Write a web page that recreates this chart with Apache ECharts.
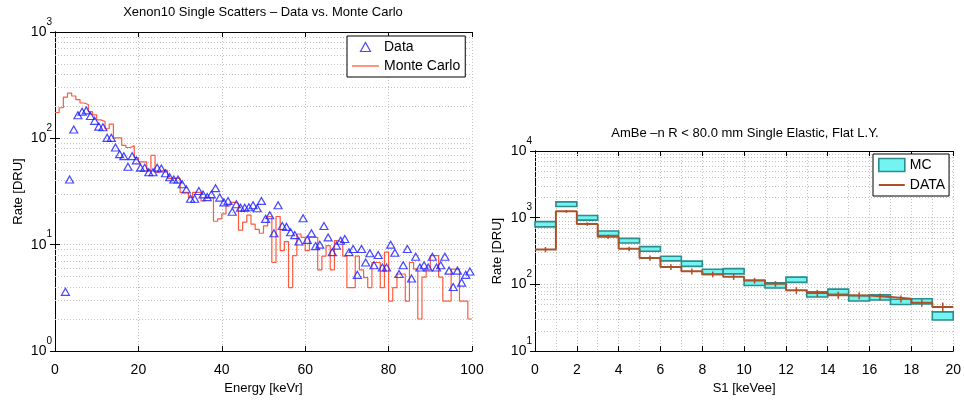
<!DOCTYPE html>
<html><head><meta charset="utf-8">
<script src="https://cdn.jsdelivr.net/npm/echarts@6/dist/echarts.min.js"></script>
<style>html,body{margin:0;padding:0;background:#fff}#c{width:964px;height:400px}</style>
</head><body><div id="c"></div>
<script>
// ---------- Left panel: Xenon10 single scatters ----------
const leftTitle = 'Xenon10 Single Scatters \u2013 Data vs. Monte Carlo';
const leftXTicks = [0, 20, 40, 60, 80, 100];
const leftYTicks = [1, 10, 100, 1000];
const dataEnergy = [2.5,3.5,4.5,5.5,6.5,7.5,8.5,9.5,10.5,11.5,12.5,13.5,14.5,15.5,16.5,17.5,18.5,19.5,20.5,21.5,
  22.5,23.5,24.5,25.5,26.5,27.5,28.5,29.5,30.5,31.5,32.5,33.5,34.5,35.5,36.5,37.5,38.5,39.5,40.5,41.5,
  42.5,43.5,44.5,45.5,46.5,47.5,48.5,49.5,50.5,51.5,52.5,53.5,54.5,55.5,56.5,57.5,58.5,59.5,60.5,61.5,
  62.5,63.5,64.5,65.5,66.5,67.5,68.5,69.5,70.5,71.5,72.5,73.5,74.5,75.5,76.5,77.5,78.5,79.5,80.5,81.5,
  82.5,83.5,84.5,85.5,86.5,87.5,88.5,89.5,90.5,91.5,92.5,93.5,94.5,95.5,96.5,97.5,98.5,99.5];
const dataRate = [3.6,41,121,165,178,183,162,146,129,127,101,101,82,71,68,54,68,62,53,53,
  48,48,53,52,47,43,41,41,37,33,27,27,32,29.7,28,29.7,34,27.7,25,25.8,
  20.4,24,22.3,22.3,22.5,23.5,22,25.8,17.5,18.9,12.8,23.5,15,14.7,13.1,12.3,10.7,17.7,11.1,12.8,
  9.7,10,15,11.7,8.5,9.8,10.9,11.3,8.5,9.1,5.2,9.1,6.8,8.3,6.4,8.0,6.1,6.1,10,8.4,
  5.3,6.4,9.1,4.8,7.7,6.1,6.4,6.1,7.7,6.1,6.4,7.7,5.7,4.0,5.7,4.4,5.2,5.6];
const mcBinEdges = [0,1,2,3,4,5,6,7,8,9,10,11,12,13,14,15,16,17,18,19,20,21,22,23,24,25,26,27,28,29,
  30,31,32,33,34,35,36,37,38,39,40,41,42,43,44,45,46,47,48,49,50,51,52,53,54,55,56,57,58,59,
  60,61,62,63,64,65,66,67,68,69,70,71,72,73,74,75,76,77,78,79,80,81,82,83,84,85,86,87,88,89,
  90,91,92,93,94,95,96,97,98,99,100];
const mcRate = [175,194,244,266,250,231,215,208,178,166,149,144,123,136,101,101,86,82,85,66,
  60,60,50,69,48,50,50,42,42,42,31,31,27.7,31,31,25.8,27.7,27.7,16.6,17.5,
  19.5,23.2,25,24.5,13.7,16.3,19,15.6,13.9,12.8,15,18.4,6.8,18.4,8.8,10.7,3.95,7.9,12.6,11.7,
  8.8,11.7,11.7,5.8,7.8,9.8,5.8,10.9,10.5,7.8,3.95,3.95,7.8,5.8,4.9,3.95,6.8,6.8,3.95,8.5,
  2.95,3.95,5.3,5.3,2.95,6.8,5.9,2.0,4.95,5.8,7.9,7.9,4.95,2.95,2.95,5.9,5.9,2.95,2.95,2.0];

// ---------- Right panel: AmBe ----------
const rightTitle = 'AmBe \u2013n R < 80.0 mm Single Elastic, Flat L.Y.';
const s1Edges = [0,1,2,3,4,5,6,7,8,9,10,11,12,13,14,15,16,17,18,19,20];
const mcRate2 = [800,1600,1000,585,454,341,245,205,155,158,106,97,118,71,78,62,64,55,56,34];
const mcRelErr2 = [0.09,0.08,0.08,0.08,0.08,0.08,0.08,0.09,0.09,0.09,0.09,0.09,0.09,0.09,0.09,0.09,0.09,0.09,0.09,0.14];
const dataRate2 = [334,1245,802,518,341,248,183,157,142,130,114,102,82,74,69,68,65,61,53,46];
const dataRelErr2 = [0.09,0.05,0.06,0.07,0.08,0.09,0.1,0.1,0.1,0.1,0.1,0.1,0.12,0.12,0.12,0.12,0.12,0.12,0.13,0.16];
const minorGridLeft = [2,3,4,5,6,7,8,9,20,30,40,50,60,70,80,90,200,300,400,500,600,700,800,900];
const minorGridRight = [20,30,40,50,60,70,80,90,200,300,400,500,600,700,800,900,2000,3000,4000,5000,6000,7000,8000,9000];

const FONT = '"Liberation Sans", Arial, Helvetica, sans-serif';
const gridLine = {color:'#c2c2c2', type:[1,2], width:1};
const powLabel = v => '{b|10}{s|' + Math.round(Math.log10(v)) + '}';
const richPow = {
  b:{fontSize:14, fontFamily:FONT, color:'#000', lineHeight:22, verticalAlign:'bottom'},
  s:{fontSize:10, fontFamily:FONT, color:'#000', lineHeight:10, verticalAlign:'top'}
};
const axisLine = {show:true, lineStyle:{color:'#000', width:1}};
const tick = {show:true, inside:true, length:5, lineStyle:{color:'#000'}};
const nameStyle = {fontSize:13, fontFamily:FONT, color:'#000'};

function minorMarkLine(vals){
  return {silent:true, z:1, symbol:['none','none'], animation:false, label:{show:false},
    lineStyle:gridLine, emphasis:{disabled:true}, data: vals.map(v => ({yAxis:v}))};
}

const mcLine = mcRate.map((v,i) => [mcBinEdges[i], v]);
mcLine.push([mcBinEdges[mcBinEdges.length-1], mcRate[mcRate.length-1]]);
const dataPts = dataEnergy.map((e,i) => [e, dataRate[i]]);

const dataLine2 = dataRate2.map((v,i) => [s1Edges[i], v]);
dataLine2.push([s1Edges[s1Edges.length-1], dataRate2[dataRate2.length-1]]);
const mcBoxes = mcRate2.map((v,i) => [s1Edges[i], s1Edges[i+1], v*(1-mcRelErr2[i]), v*(1+mcRelErr2[i])]);
const errBars = dataRate2.map((v,i) => [(s1Edges[i]+s1Edges[i+1])/2, v*(1-dataRelErr2[i]), v*(1+dataRelErr2[i])]);

const chart = echarts.init(document.getElementById('c'), null, {renderer:'canvas'});
chart.setOption({
  animation:false,
  backgroundColor:'#fff',
  textStyle:{fontFamily:FONT},
  title:[
    {text:leftTitle, left:263, top:6, textAlign:'center', padding:0, textStyle:{fontSize:13, fontWeight:'normal', color:'#000', fontFamily:FONT}},
    {text:rightTitle, left:745, top:127, textAlign:'center', padding:0, textStyle:{fontSize:13, fontWeight:'normal', color:'#000', fontFamily:FONT}}
  ],
  grid:[
    {left:55, top:32, width:417, height:327, containLabel:false},
    {left:535, top:151, width:419, height:209, containLabel:false}
  ],
  legend:[
    {left:347, top:36, orient:'vertical', backgroundColor:'#fff', borderColor:'#000', borderWidth:1, borderRadius:0,
     padding:[3,5,3,5], itemGap:3, itemWidth:27, itemHeight:9,
     textStyle:{fontSize:14, fontFamily:FONT, color:'#000', lineHeight:16},
     data:[{name:'Data', icon:'path://M5,0L10,9L0,9Z', itemStyle:{color:'#fff', borderColor:'#1a1aff', borderWidth:1.2}},
           {name:'Monte Carlo', icon:'path://M0,0H27V1.3H0Z', itemStyle:{color:'#ff5a3c', borderWidth:0}}]},
    {left:873, top:154, orient:'vertical', backgroundColor:'#fff', borderColor:'#000', borderWidth:1, borderRadius:0,
     padding:[3,4,3,5], itemGap:4, itemWidth:26, itemHeight:13, symbolKeepAspect:true,
     textStyle:{fontSize:14, fontFamily:FONT, color:'#000', lineHeight:16},
     data:[{name:'MC', icon:'rect', itemStyle:{color:'#72f4f2', borderColor:'#2d8c8c', borderWidth:1.6}},
           {name:'DATA', icon:'path://M0,0H26V2H0Z', itemStyle:{color:'#a8532a', borderWidth:0}}]}
  ],
  xAxis:[
    {gridIndex:0, type:'value', min:0, max:100, interval:20, axisLine, axisTick:tick,
     axisLabel:{fontSize:14, fontFamily:FONT, color:'#000', margin:12},
     splitLine:{show:true, lineStyle:gridLine},
     name:'Energy [keVr]', nameLocation:'middle', nameGap:31, nameTextStyle:nameStyle},
    {gridIndex:0, type:'value', position:'top', min:0, max:100, interval:20, axisLine, axisTick:tick,
     axisLabel:{show:false}, splitLine:{show:false}},
    {gridIndex:1, type:'value', min:0, max:20, interval:2, axisLine, axisTick:tick,
     axisLabel:{fontSize:14, fontFamily:FONT, color:'#000', margin:12},
     splitLine:{show:true, lineStyle:gridLine},
     minorTick:{show:false, splitNumber:2}, minorSplitLine:{show:true, lineStyle:gridLine},
     name:'S1 [keVee]', nameLocation:'middle', nameGap:29, nameTextStyle:nameStyle},
    {gridIndex:1, type:'value', position:'top', min:0, max:20, interval:2, axisLine, axisTick:tick,
     axisLabel:{show:false}, splitLine:{show:false}}
  ],
  yAxis:[
    {gridIndex:0, type:'log', logBase:10, min:leftYTicks[0], max:leftYTicks[leftYTicks.length-1], axisLine, axisTick:tick,
     axisLabel:{formatter:powLabel, rich:richPow, margin:3, padding:[0,0,8,0]},
     splitLine:{show:true, lineStyle:gridLine},
     name:'Rate [DRU]', nameLocation:'middle', nameGap:30, nameRotate:90, nameTextStyle:nameStyle},
    {gridIndex:0, type:'log', logBase:10, position:'right', min:1, max:1000, axisLine, axisTick:tick,
     axisLabel:{show:false}, splitLine:{show:false}},
    {gridIndex:1, type:'log', logBase:10, min:10, max:10000, axisLine, axisTick:tick,
     axisLabel:{formatter:powLabel, rich:richPow, margin:3, padding:[0,0,8,0]},
     splitLine:{show:true, lineStyle:gridLine},
     name:'Rate [DRU]', nameLocation:'middle', nameGap:31, nameRotate:90, nameTextStyle:nameStyle},
    {gridIndex:1, type:'log', logBase:10, position:'right', min:10, max:10000, axisLine, axisTick:tick,
     axisLabel:{show:false}, splitLine:{show:false}}
  ],
  series:[
    {name:'Monte Carlo', type:'line', xAxisIndex:0, yAxisIndex:0, step:'end', data:mcLine,
     symbol:'none', color:'#ff5a3c', lineStyle:{color:'#ff5a3c', width:1.2}, z:3,
     markLine:minorMarkLine(minorGridLeft)},
    {name:'Data', type:'scatter', xAxisIndex:0, yAxisIndex:0, data:dataPts, symbol:'triangle', symbolSize:[8,7],
     itemStyle:{color:'rgba(0,0,0,0)', borderColor:'#1a1aff', borderWidth:1.2}, z:4},
    {name:'MC', type:'custom', xAxisIndex:2, yAxisIndex:2, data:mcBoxes, encode:{x:[0,1], y:[2,3]}, z:2,
     color:'#72f4f2',
     renderItem:(params, api) => {
       const p0 = api.coord([api.value(0), api.value(3)]);
       const p1 = api.coord([api.value(1), api.value(2)]);
       return {type:'rect', shape:{x:p0[0], y:p0[1], width:p1[0]-p0[0], height:p1[1]-p0[1]},
         style:{fill:'#72f4f2', stroke:'#2d8c8c', lineWidth:1.6}};
     }},
    {name:'DATA', type:'line', xAxisIndex:2, yAxisIndex:2, step:'end', data:dataLine2, symbol:'none',
     color:'#a8532a', lineStyle:{color:'#a8532a', width:2}, z:3,
     markLine:minorMarkLine(minorGridRight)},
    {name:'DATA err', type:'custom', xAxisIndex:2, yAxisIndex:2, data:errBars, encode:{x:0, y:[1,2]}, z:4,
     renderItem:(params, api) => {
       const a = api.coord([api.value(0), api.value(1)]);
       const b = api.coord([api.value(0), api.value(2)]);
       return {type:'line', shape:{x1:a[0], y1:a[1], x2:b[0], y2:b[1]}, style:{stroke:'#a8532a', lineWidth:1.5}};
     }}
  ]
});
</script>
</body></html>
